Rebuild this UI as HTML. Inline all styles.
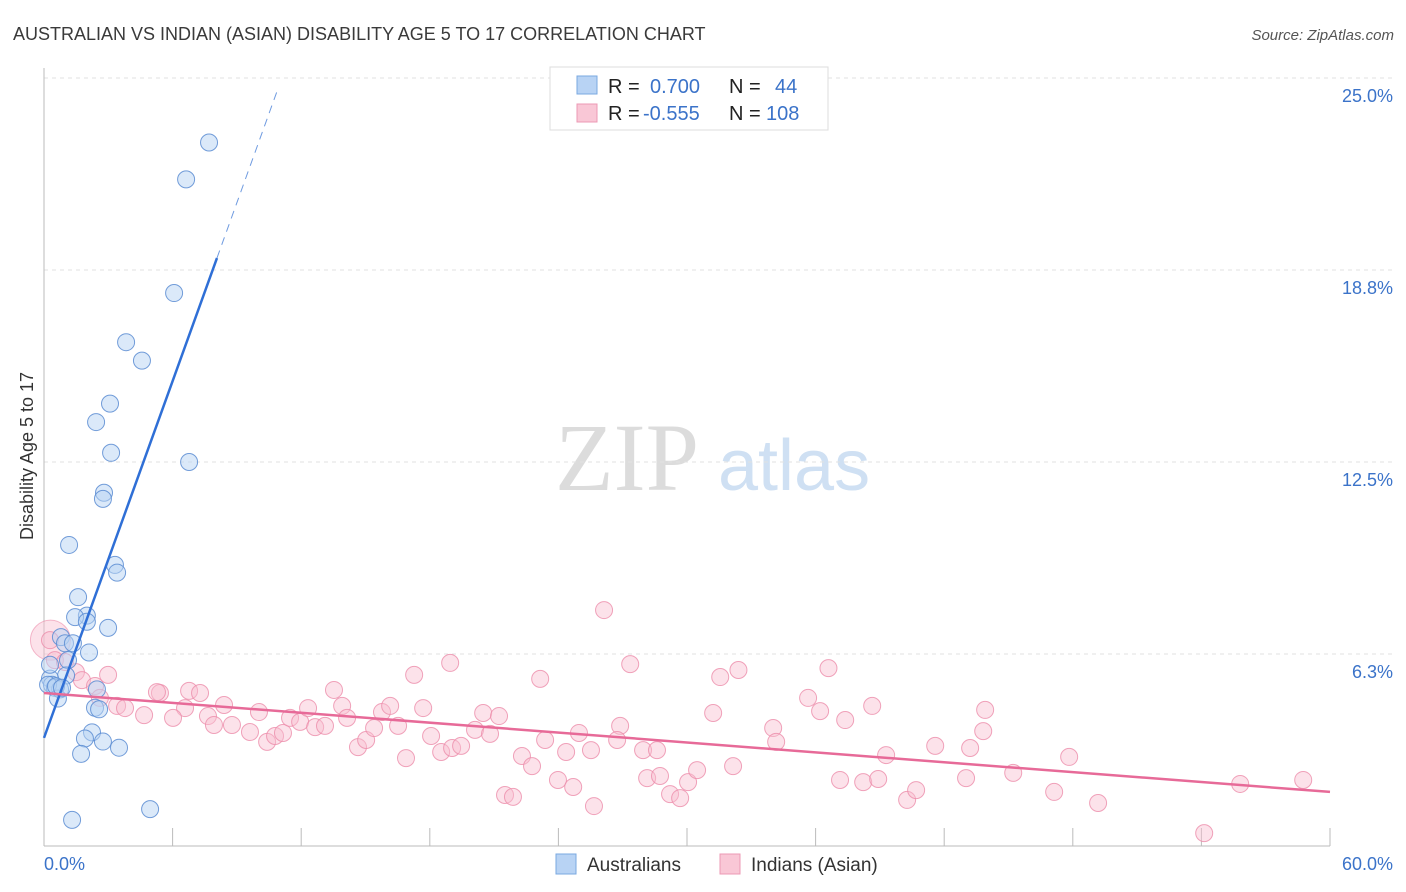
<!DOCTYPE html>
<html><head><meta charset="utf-8"><style>
body{margin:0;background:#fff;font-family:"Liberation Sans",sans-serif;}
svg{display:block}
</style></head><body>
<svg id="c" width="1406" height="892" xmlns="http://www.w3.org/2000/svg">
<text x="13" y="40" font-size="18" fill="#3a3a3a">AUSTRALIAN VS INDIAN (ASIAN) DISABILITY AGE 5 TO 17 CORRELATION CHART</text>
<text x="1394" y="40" font-size="15" fill="#555" font-style="italic" text-anchor="end">Source: ZipAtlas.com</text>
<text x="555" y="490" font-size="96" fill="#dcdcdc" font-family="Liberation Serif,serif">ZIP</text>
<text x="718" y="490" font-size="72" fill="#cfe0f3">atlas</text>
<text transform="translate(33,456) rotate(-90)" font-size="18" fill="#333" text-anchor="middle">Disability Age 5 to 17</text>
<g id="grid"></g><g id="marks"></g><g id="lines"></g>
<g>
<rect x="550" y="67" width="278" height="63" fill="#fff" stroke="#ddd"/>
<rect x="577" y="76" width="20" height="18" fill="#b8d3f4" stroke="#7aa8e0"/>
<rect x="577" y="104" width="20" height="18" fill="#f9c7d6" stroke="#ec9ab4"/>
<text x="608" y="93" font-size="20" fill="#222">R = </text><text x="650" y="93" font-size="20" fill="#3b73c9">0.700</text>
<text x="729" y="93" font-size="20" fill="#222">N = </text><text x="775" y="93" font-size="20" fill="#3b73c9">44</text>
<text x="608" y="120" font-size="20" fill="#222">R = </text><text x="643" y="120" font-size="20" fill="#3b73c9">-0.555</text>
<text x="729" y="120" font-size="20" fill="#222">N = </text><text x="766" y="120" font-size="20" fill="#3b73c9">108</text>
</g>
<g>
<rect x="556" y="854" width="20" height="20" fill="#b8d3f4" stroke="#7aa8e0"/>
<text x="587" y="871" font-size="19" fill="#333">Australians</text>
<rect x="720" y="854" width="20" height="20" fill="#f9c7d6" stroke="#ec9ab4"/>
<text x="751" y="871" font-size="19" fill="#333">Indians (Asian)</text>
</g>
</svg>
<script>
const yTicks=[6.25,12.5,18.75,25];
const yTickLabels=["6.3%","12.5%","18.8%","25.0%"];
const xTickVals=[0,6,12,18,24,30,36,42,48,54,60];
const blueX=[7.7,6.63,6.07,3.83,4.57,3.08,2.43,3.13,6.77,2.8,2.75,1.17,3.31,3.41,1.59,2.0,1.45,2.0,2.99,0.79,0.98,2.1,1.35,1.12,1.03,0.28,0.37,0.51,0.75,0.19,2.47,0.65,2.38,2.57,2.24,1.91,2.75,3.5,1.73,4.95,1.31,0.28,0.56,0.84];
const blueY=[22.9,21.7,18.0,16.4,15.8,14.4,13.8,12.8,12.5,11.5,11.3,9.8,9.15,8.9,8.1,7.5,7.45,7.3,7.1,6.8,6.6,6.3,6.6,6.05,5.55,5.45,5.25,5.15,5.1,5.25,5.1,4.8,4.5,4.45,3.7,3.5,3.4,3.2,3.0,1.2,0.85,5.9,5.2,5.15];
const pinkX=[26.13,18.95,27.35,36.6,32.4,17.27,31.55,23.15,2.99,13.53,5.41,6.77,7.28,5.27,8.4,3.41,3.78,4.67,6.58,6.02,7.65,10.03,8.77,7.93,9.61,10.41,10.78,11.15,11.48,11.95,12.32,12.65,13.11,13.91,14.14,14.65,15.03,15.4,15.77,16.15,16.52,16.89,17.69,18.06,18.53,19.04,19.46,20.11,20.49,20.81,21.23,22.3,22.77,23.38,23.98,24.36,24.69,24.96,25.52,25.66,26.88,26.74,27.95,28.14,28.6,28.74,29.21,29.68,30.05,30.47,31.22,32.15,34.02,34.16,35.65,36.21,37.14,37.38,38.22,38.64,38.92,39.29,40.27,40.69,41.58,43.02,43.21,43.82,43.91,45.22,47.13,47.83,49.18,54.13,55.81,58.75,0.28,0.51,0.98,1.49,1.77,2.38,2.61,21.51,21.88];
const pinkY=[7.68,5.96,5.92,5.79,5.73,5.57,5.5,5.44,5.57,5.08,4.98,5.05,4.98,5.01,4.59,4.56,4.49,4.26,4.49,4.17,4.23,4.36,3.94,3.94,3.71,3.39,3.58,3.68,4.17,4.04,4.49,3.87,3.91,4.56,4.17,3.22,3.45,3.84,4.36,4.56,3.91,2.86,4.49,3.58,3.06,3.19,3.26,3.78,4.33,3.65,4.23,2.93,2.6,3.45,2.15,3.06,1.92,3.68,3.12,1.3,3.91,3.45,3.12,2.21,3.12,2.28,1.69,1.56,2.08,2.47,4.33,2.6,3.84,3.39,4.82,4.39,2.15,4.1,2.08,4.56,2.18,2.96,1.5,1.82,3.26,2.21,3.19,3.74,4.43,2.38,1.76,2.9,1.4,0.42,2.02,2.15,6.7,6.05,5.99,5.66,5.4,5.21,4.82,1.66,1.6];
const blueLine=[[0,3.52],[8.07,19.14]];
const blueDash=[[8.07,19.14],[10.92,24.66]];
const pinkLine=[[0,4.98],[60,1.76]];
const NS="http://www.w3.org/2000/svg";
const sx=v=>44+v/60*1286, sy=v=>846-v/25*768;
function mk(t,a,p){const e=document.createElementNS(NS,t);for(const k in a)e.setAttribute(k,a[k]);p.appendChild(e);return e;}
const G=document.getElementById('grid'),M=document.getElementById('marks'),L=document.getElementById('lines');
yTicks.forEach((v,i)=>{
 const l=mk('line',{x1:44,x2:1394,y1:sy(v),y2:sy(v),stroke:'#e2e2e2','stroke-dasharray':'4,4'},G);
 
 
 const t=mk('text',{x:1393,y:sy(v)+24,'font-size':18,fill:'#3b73c9','text-anchor':'end'},G);t.textContent=yTickLabels[i];
 
 
});
const ax=mk('line',{x1:44,x2:1330,y1:846,y2:846,stroke:'#bbb'},G);


const ay=mk('line',{x1:44,x2:44,y1:68,y2:846,stroke:'#bbb'},G);


xTickVals.forEach(v=>{const t=mk('line',{x1:sx(v),x2:sx(v),y1:828,y2:846,stroke:'#bbb'},G);
 
 });
[["0.0%",44,'start'],["60.0%",1393,'end']].forEach(d=>{const t=mk('text',{x:d[1],y:870,'font-size':18,fill:'#3b73c9','text-anchor':d[2]},G);t.textContent=d[0];
 
 });
const big=mk('circle',{cx:sx(0.3),cy:sy(6.7),r:20,fill:'rgba(249,190,208,0.45)',stroke:'rgba(236,140,170,0.6)'},M);


pinkX.forEach((x,i)=>{const c=mk('circle',{cx:sx(x),cy:sy(pinkY[i]),r:8.5,fill:'rgba(249,190,208,0.45)',stroke:'rgba(236,140,170,0.8)'},M);
 
 });
blueX.forEach((x,i)=>{const c=mk('circle',{cx:sx(x),cy:sy(blueY[i]),r:8.5,fill:'rgba(184,211,244,0.5)',stroke:'rgba(90,140,210,0.85)'},M);
 
 });
const bl=mk('line',{x1:sx(blueLine[0][0]),y1:sy(blueLine[0][1]),x2:sx(blueLine[1][0]),y2:sy(blueLine[1][1]),stroke:'#2f6fd6','stroke-width':2.5},L);


const bd=mk('line',{x1:sx(blueDash[0][0]),y1:sy(blueDash[0][1]),x2:sx(blueDash[1][0]),y2:sy(blueDash[1][1]),stroke:'#6f9be0','stroke-width':1,'stroke-dasharray':'8,6'},L);


const pl=mk('line',{x1:sx(pinkLine[0][0]),y1:sy(pinkLine[0][1]),x2:sx(pinkLine[1][0]),y2:sy(pinkLine[1][1]),stroke:'#e76a98','stroke-width':2.5},L);


</script>
</body></html>
